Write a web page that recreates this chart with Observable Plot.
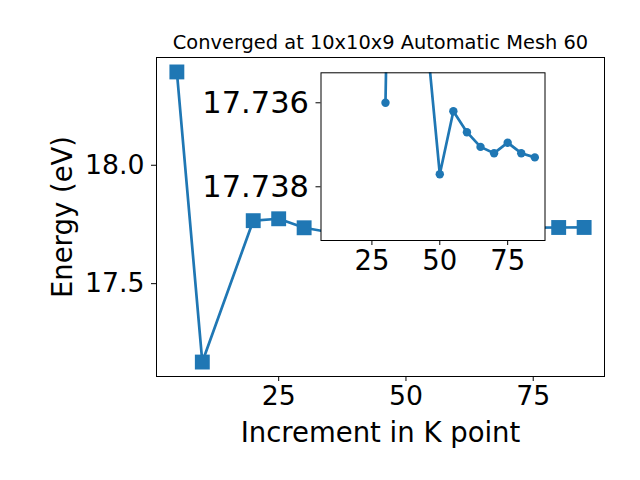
<!DOCTYPE html>
<html>
<head>
<meta charset="utf-8">
<script src="https://cdn.jsdelivr.net/npm/d3@7"></script>
<script src="https://cdn.jsdelivr.net/npm/@observablehq/plot@0.6"></script>
<style>
  html, body { margin: 0; padding: 0; background: white; }
  #wrap { position: relative; width: 640px; height: 480px; }
  #wrap > svg { position: absolute; left: 0; top: 0; }
</style>
</head>
<body>
<div id="wrap"></div>
<script>
// ---- data ----
const kpoints = [5, 10, 20, 25, 30, 35, 40, 45, 50, 55, 60, 65, 70, 75, 80, 85];
const energy  = [18.394, 17.169, 17.766, 17.774, 17.736, 17.717, 17.728, 17.7343,
                 17.7377, 17.7362, 17.7367, 17.73705, 17.7372, 17.73695, 17.7372, 17.7373];
const insetStart = 30;           // inset shows the converging tail
const mainXTicks = [25, 50, 75];
const mainYTicks = [17.5, 18.0];
const insetXTicks = [25, 50, 75];
const insetYTicks = [17.736, 17.738];
const titleText = "Converged at 10x10x9 Automatic Mesh 60";
const xLabel = "Increment in K point";
const yLabel = "Energy (eV)";

const rows = kpoints.map((k, i) => ({k, e: energy[i]}));
const insetRows = rows.filter(d => d.k >= insetStart);

const blue = "#1f77b4";
const font = "DejaVu Sans";

const main = Plot.plot({
  width: 640, height: 480,
  marginLeft: 156, marginRight: 36, marginTop: 57, marginBottom: 104,
  style: {fontFamily: font, fontSize: "26.7px", color: "black", background: "white"},
  x: {domain: [1, 89]},
  y: {domain: [17.108, 18.455]},
  marks: [
    Plot.frame({stroke: "black", strokeWidth: 1}),
    Plot.axisX({ticks: mainXTicks, tickSize: 5, tickPadding: 5, label: null, fontSize: 26.7}),
    Plot.axisY({ticks: mainYTicks, tickSize: 5, tickPadding: 7, tickFormat: d3.format(".1f"), label: null, fontSize: 26.7}),
    Plot.line(rows, {x: "k", y: "e", stroke: blue, strokeWidth: 2.7}),
    Plot.dot(rows, {x: "k", y: "e", symbol: "square", fill: blue, r: 8.4}),
    Plot.text([titleText], {frameAnchor: "top", lineAnchor: "middle", dy: -15, fontSize: 19.4, fill: "black"}),
    Plot.text([xLabel], {frameAnchor: "bottom", lineAnchor: "middle", dy: 57, fontSize: 27.5, fill: "black"}),
    Plot.text([yLabel], {frameAnchor: "left", textAnchor: "middle", lineAnchor: "middle", dx: -93, rotate: -90, fontSize: 27.5, fill: "black"})
  ]
});

const inset = Plot.plot({
  width: 640, height: 480,
  marginLeft: 320.5, marginRight: 95.5, marginTop: 72.3, marginBottom: 240,
  style: {fontFamily: font, fontSize: "26.7px", color: "black", background: "transparent"},
  x: {domain: [6.25, 88.75]},
  y: {domain: [17.735286, 17.739279], reverse: true},
  marks: [
    Plot.frame({fill: "white"}),
    Plot.axisX({ticks: insetXTicks, tickSize: 5, tickPadding: 5, label: null, fontSize: 27.5}),
    Plot.axisY({ticks: insetYTicks, tickSize: 5, tickPadding: 7, tickFormat: d3.format(".3f"), label: null, fontSize: 30.5}),
    Plot.line(insetRows, {x: "k", y: "e", stroke: blue, strokeWidth: 2.7, clip: true}),
    Plot.dot(insetRows, {x: "k", y: "e", fill: blue, r: 4.2, clip: true}),
    Plot.frame({stroke: "black", strokeWidth: 1})
  ]
});

const wrap = document.getElementById("wrap");
wrap.appendChild(main);
wrap.appendChild(inset);
</script>
</body>
</html>
